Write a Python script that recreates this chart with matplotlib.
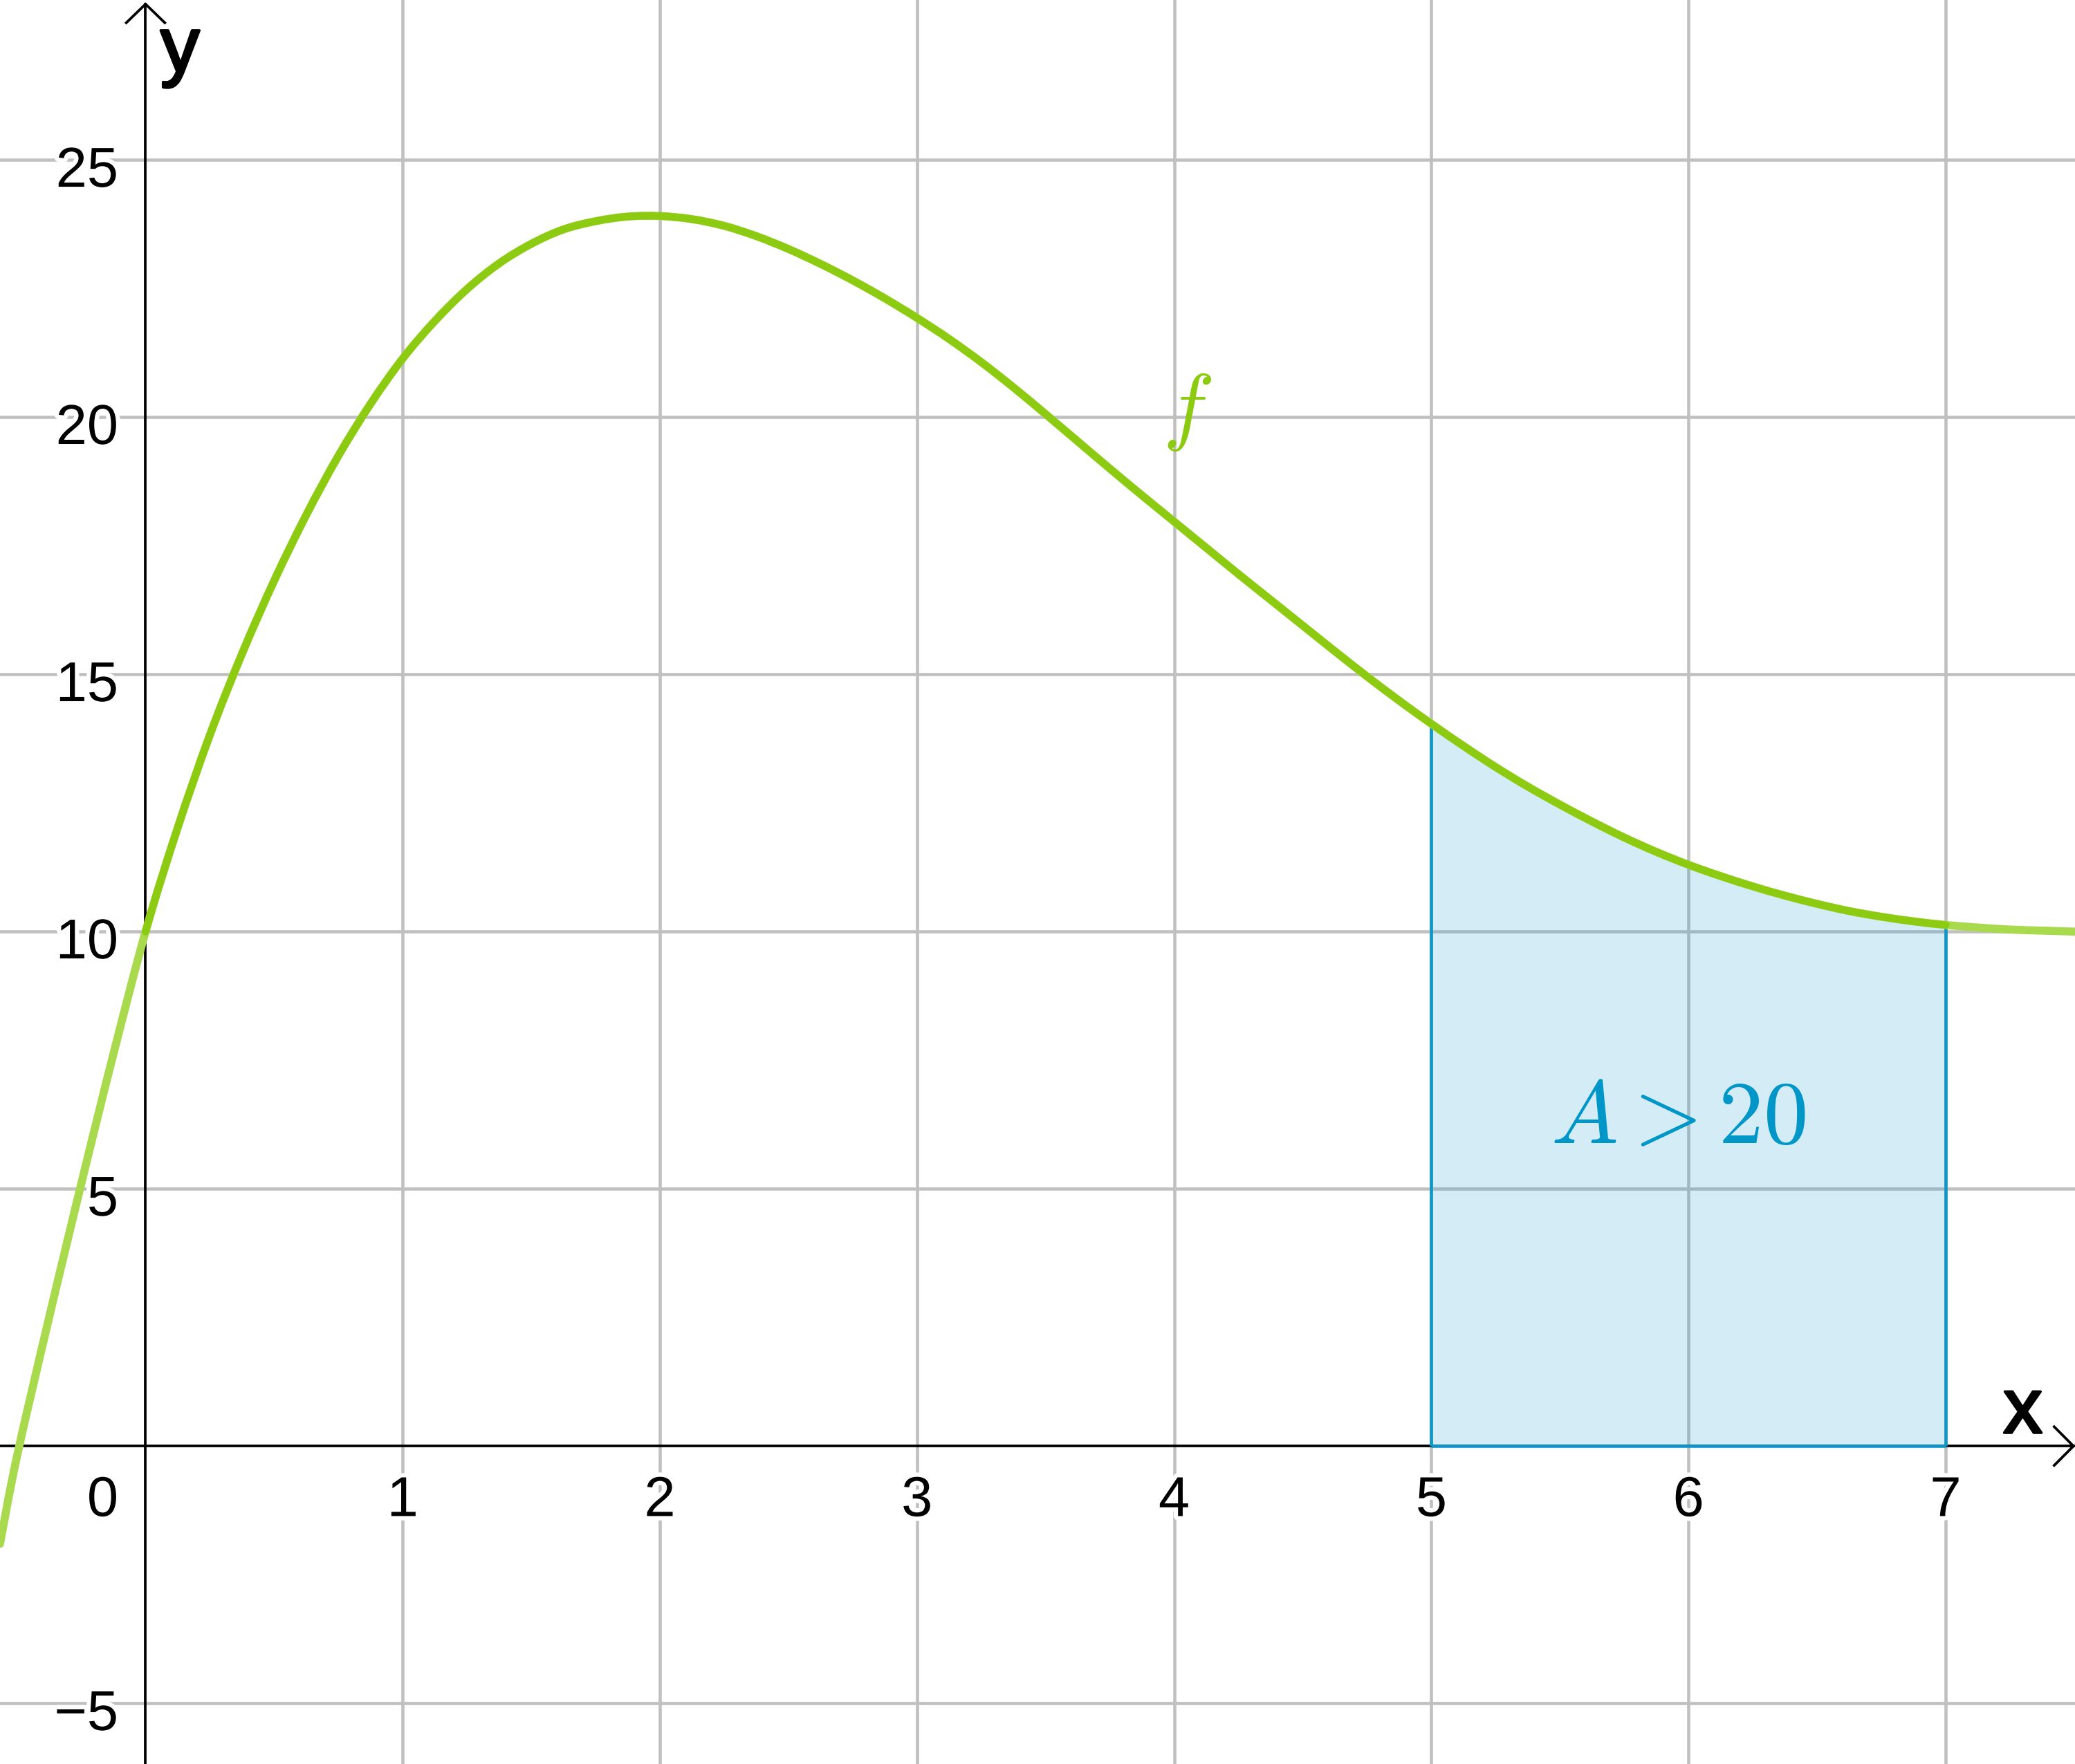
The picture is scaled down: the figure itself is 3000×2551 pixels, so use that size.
import numpy as np
import matplotlib
matplotlib.use("Agg")
import matplotlib.pyplot as plt
import matplotlib.patheffects as pe
from matplotlib.path import Path
from matplotlib.patches import PathPatch

plt.rcParams["font.family"] = ["Liberation Sans", "DejaVu Sans"]
plt.rcParams["mathtext.fontset"] = "cm"

# curve f
x_vals = [-0.566, -0.5, -0.375, -0.25, -0.125,
          0.0, 0.125, 0.25, 0.375, 0.5, 0.625, 0.75, 0.875,
          1.0, 1.125, 1.25, 1.375, 1.5, 1.625, 1.75, 1.875,
          2.0, 2.125, 2.25, 2.375, 2.5, 2.625, 2.75, 2.875,
          3.0, 3.125, 3.25, 3.375, 3.5, 3.625, 3.75, 3.875,
          4.0, 4.125, 4.25, 4.375, 4.5, 4.625, 4.75, 4.875,
          5.0, 5.125, 5.25, 5.375, 5.5, 5.625, 5.75, 5.875,
          6.0, 6.125, 6.25, 6.375, 6.5, 6.625, 6.75, 6.875,
          7.0, 7.125, 7.25, 7.375, 7.503]
f_vals = [-1.9, -0.2, 2.5, 5.1, 7.62,
          10.0, 12.02, 13.82, 15.40, 16.82, 18.10, 19.25, 20.26,
          21.14, 21.87, 22.49, 22.99, 23.37, 23.65, 23.81, 23.90,
          23.91, 23.85, 23.72, 23.52, 23.27, 22.98, 22.66, 22.31,
          21.93, 21.52, 21.07, 20.58, 20.06, 19.53, 19.00, 18.48,
          17.97, 17.46, 16.95, 16.45, 15.95, 15.45, 14.96, 14.49,
          14.04, 13.61, 13.20, 12.82, 12.47, 12.14, 11.83, 11.55,
          11.30, 11.08, 10.88, 10.70, 10.54, 10.40, 10.29, 10.20,
          10.13, 10.08, 10.04, 10.02, 10.0]

x_ticks = [1, 2, 3, 4, 5, 6, 7]
y_ticks = [-5, 5, 10, 15, 20, 25]
y_tick_labels = ["\u22125", "5", "10", "15", "20", "25"]

area_from, area_to = 5.0, 7.0
area_label = r"$A > 20$"
curve_label = r"$f$"

green = "#8dcb12"
green_light = "#a9d94c"
blue = "#0f96c9"
grid_c = "#c0c0c0"

x = np.array(x_vals)
y = np.array(f_vals)


def smooth_path(i0, i1):
    # Catmull-Rom through the read points i0..i1, as cubic Bezier pieces
    pts = np.column_stack([x, y])
    verts = [pts[i0]]
    codes = [Path.MOVETO]
    for i in range(i0, i1):
        p0 = pts[max(i - 1, 0)]
        p1 = pts[i]
        p2 = pts[i + 1]
        p3 = pts[min(i + 2, len(pts) - 1)]
        verts += [p1 + (p2 - p0) / 6, p2 - (p3 - p1) / 6, p2]
        codes += [Path.CURVE4] * 3
    return Path(verts, codes)


fig = plt.figure(figsize=(10, 2551 / 300), dpi=300)
ax = fig.add_axes([0, 0, 1, 1])
x0, x1 = -0.566, 7.503
y0, y1 = -6.18, 28.11
ax.set_xlim(x0, x1)
ax.set_ylim(y0, y1)
ax.axis("off")

# grid
for v in x_ticks:
    ax.axvline(v, color=grid_c, lw=1.1, zorder=1)
for v in y_ticks:
    ax.axhline(v, color=grid_c, lw=1.1, zorder=1)

# shaded area
m = (x >= area_from) & (x <= area_to)
ax.fill_between(x[m], 0, y[m], color=blue, alpha=0.18, lw=0, zorder=2)

# axes with open arrow heads
ax.plot([x0, 7.497], [0, 0], color="black", lw=0.9, zorder=3)
ax.plot([0, 0], [y0, y1 - 0.08], color="black", lw=0.9, zorder=3)
ax.plot([7.497 - 0.075, 7.497, 7.497 - 0.075], [0.376, 0, -0.376],
        color="black", lw=0.9, zorder=3, solid_joinstyle="miter")
ax.plot([-0.075, 0, 0.075], [y1 - 0.08 - 0.363, y1 - 0.08, y1 - 0.08 - 0.363],
        color="black", lw=0.9, zorder=3, solid_joinstyle="miter")

# outline of the area
y_from = y[x == area_from][0]
y_to = y[x == area_to][0]
ax.vlines([area_from, area_to], 0, [y_from, y_to], color=blue, lw=1.1, zorder=4)
ax.hlines(0, area_from, area_to, color=blue, lw=1.1, zorder=4)

# curve: light full line, darker part on [0, 7]
ax.add_patch(PathPatch(smooth_path(0, len(x) - 1), fill=False,
                       edgecolor=green_light, lw=2.8, capstyle="round", zorder=5))
i_start = int(np.where(x == 0.0)[0][0])
i_end = int(np.where(x == area_to)[0][0])
ax.add_patch(PathPatch(smooth_path(i_start, i_end), fill=False,
                       edgecolor=green, lw=2.6, capstyle="round", zorder=6))

halo = [pe.withStroke(linewidth=3, foreground="white")]
for v in x_ticks:
    ax.text(v, -1.36, str(v), ha="center", va="baseline", fontsize=19.5,
            zorder=7, path_effects=halo)
ax.text(-0.106, -1.36, "0", ha="right", va="baseline", fontsize=19.5,
        zorder=7, path_effects=halo)
for v, lab in zip(y_ticks, y_tick_labels):
    ax.text(-0.106, v - 0.52, lab, ha="right", va="baseline", fontsize=19.5,
            zorder=7, path_effects=halo)

heavy = [pe.withStroke(linewidth=0.9, foreground="black")]
ax.text(7.30, 0.26, "x", ha="center", va="baseline", fontsize=27, zorder=7,
        path_effects=heavy)
ax.text(0.134, 26.72, "y", ha="center", va="baseline", fontsize=27, zorder=7,
        path_effects=heavy)

ax.text(4.05, 20.1, curve_label, color=green, ha="center", va="center",
        fontsize=30, zorder=7)
ax.text(5.96, 5.89, area_label, color="#0096c8", ha="center", va="baseline",
        fontsize=31, zorder=7)

fig.savefig("out.png", dpi=300)
